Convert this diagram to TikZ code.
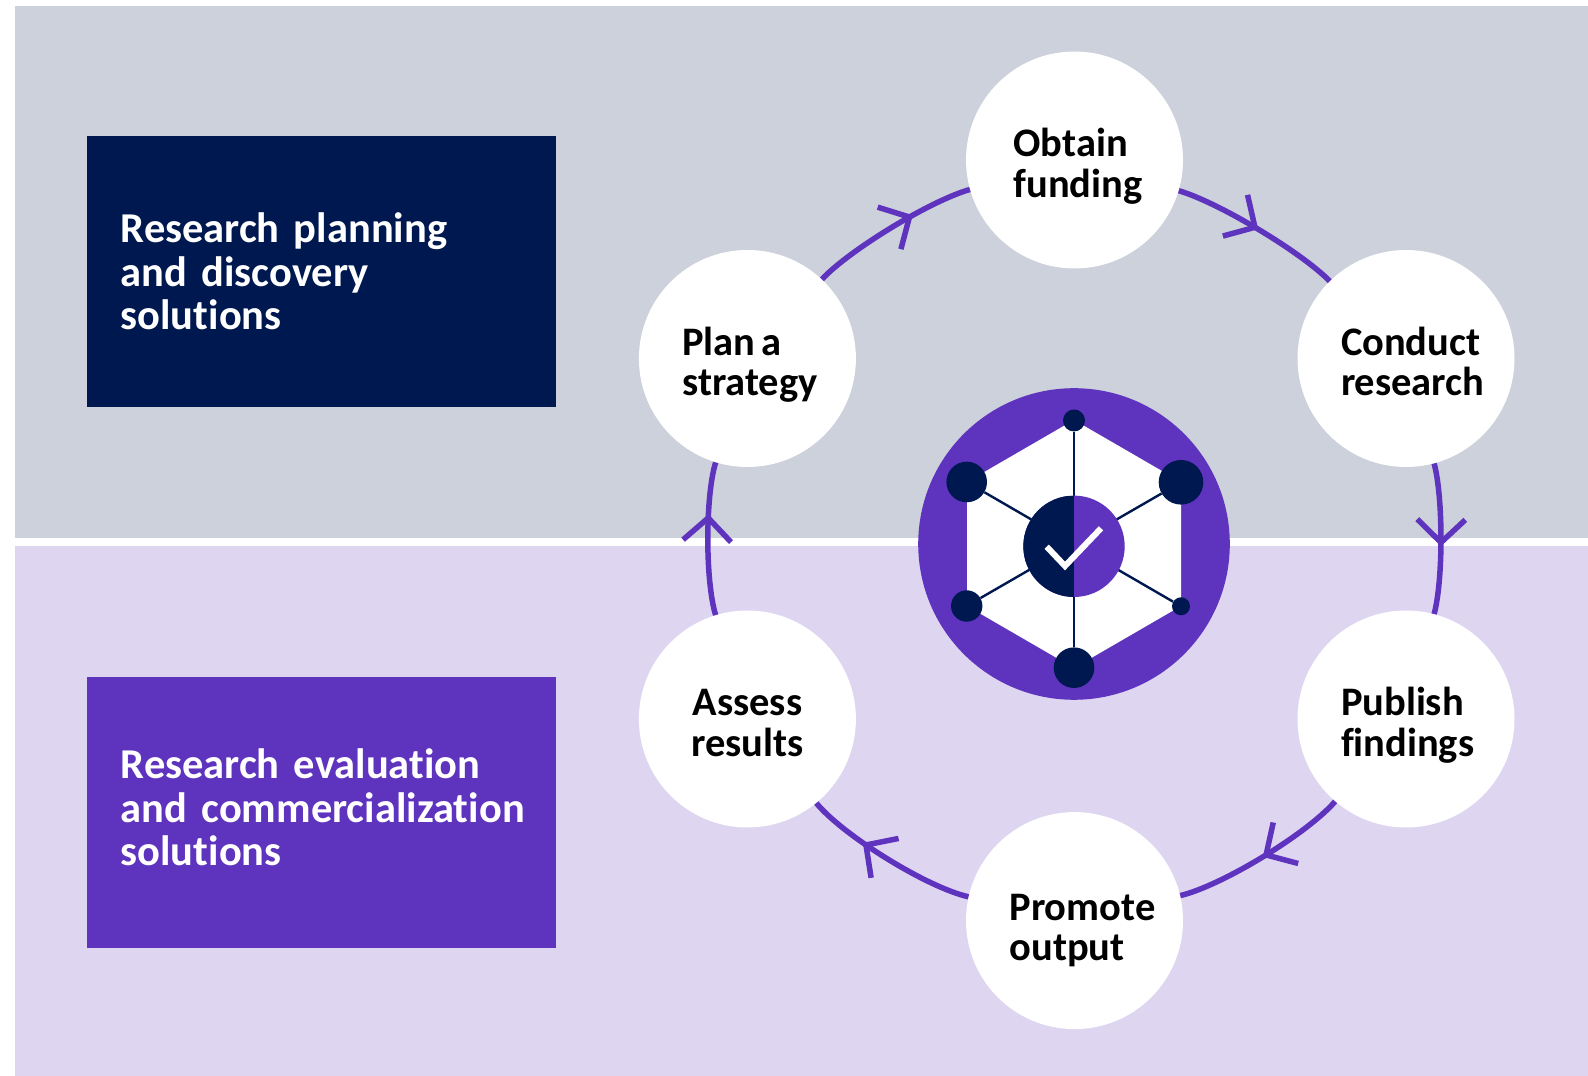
\documentclass[tikz,border=0pt]{standalone}
\usepackage{fontspec}
\setmainfont{Carlito}[Ligatures=NoCommon]
\usetikzlibrary{arrows.meta,decorations.markings}
\definecolor{navyblue}{RGB}{0,24,80}
\definecolor{violet}{RGB}{94,51,190}
\definecolor{greyband}{RGB}{204,209,220}
\definecolor{lilacband}{RGB}{222,214,241}

\begin{document}
\begin{tikzpicture}[x=1pt,y=1pt,
		band/.style={fill=#1,draw=none},
		solution/.style={fill=#1,text=white,font=\fontsize{42.5}{43.5}\selectfont\bfseries,
			minimum height=271pt,inner xsep=34pt,inner ysep=0pt,text width=401pt,align=left,anchor=south west},
		bubble/.style={circle,fill=white,minimum size=217pt,inner sep=0pt,text width=#1,align=left,
			text height=40pt,text depth=46pt,font=\fontsize{40.5}{40.5}\selectfont\bfseries},
		bubble/.default=130pt,
		flow/.style={violet,line width=5.5pt,postaction={decorate},
			decoration={markings,mark=at position #1 with {\arrow[line width=5.5pt]{Straight Barb[length=23pt,width=48pt]}}}},
		spoke/.style={navyblue,line width=2.4pt},
		dot/.style={circle,fill=navyblue,inner sep=0pt,minimum size=#1}]
	\useasboundingbox (0,0) rectangle (1588,1076);
	\fill[band=greyband] (15,538) rectangle (1588,1070);
	\fill[band=lilacband] (15,0) rectangle (1588,530);

	\node[solution=navyblue] (planning) at (86.5,669) {Research planning\\and discovery\\solutions};
	\node[solution=violet,text depth=97pt] (evaluation) at (86.5,128) {Research evaluation\\\mbox{and commercialization}\\solutions};

	\node[bubble=122pt] (obtain) at (1074.5,916) {Obtain\\funding};
	\node[bubble] (conduct) at (1406,717.5) {Conduct\\research};
	\node[bubble] (publish) at (1406,357) {Publish\\findings};
	\node[bubble,text depth=41pt] (promote) at (1074.5,155.4) {Promote\\output};
	\node[bubble,align=center] (assess) at (747.4,357) {Assess\\results};
	\node[bubble] (plan) at (747.4,717.5) {Plan\hspace{.14em}a\\strategy};

	\draw[flow=.64] (plan) to[bend left=15.5,looseness=.6] (obtain);
	\draw[flow=.5] (obtain) to[bend left=14.5,looseness=.6] (conduct);
	\draw[flow=.55] (conduct) to[bend left=15,looseness=.6] (publish);
	\draw[flow=.5] (publish) to[bend left=18,looseness=.6] (promote);
	\draw[flow=.66] (promote) to[bend left=19,looseness=.6] (assess);
	\draw[flow=.66] (assess) to[bend left=17,looseness=.6] (plan);

	% emblem in the middle
	\fill[violet] (1074,532) circle (155.8);
	\fill[white] (1074,656) -- (1181,594) -- (1181,470) -- (1074,408) -- (967,470) -- (967,594) -- cycle;
	\node[dot=22pt] (north) at (1074,655.5) {};
	\node[dot=40.6pt] (northwest) at (966.7,594) {};
	\node[dot=44.6pt] (northeast) at (1181,593.7) {};
	\node[dot=31.4pt] (southwest) at (966.7,470) {};
	\node[dot=18pt] (southeast) at (1181,469.7) {};
	\node[dot=40.6pt] (south) at (1074,408.3) {};
	\draw[spoke] (north) -- (south);
	\draw[spoke] (northwest) -- (southeast);
	\draw[spoke] (northeast) -- (southwest);
	\node[circle,fill=violet,inner sep=0pt,minimum size=101.4pt,
		path picture={\fill[navyblue] (path picture bounding box.south west) rectangle (path picture bounding box.north);}]
		(hub) at (1074,529.7) {};
	\draw[white,line width=6pt] (1046.7,529.3) -- (1065,510) -- (1101,547.7);
\end{tikzpicture}
\end{document}
